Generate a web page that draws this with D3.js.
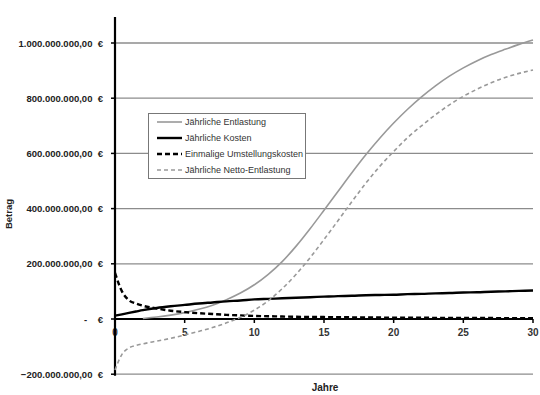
<!DOCTYPE html>
<html>
<head>
<meta charset="utf-8">
<script src="https://cdn.jsdelivr.net/npm/d3@7"></script>
<style>
    body { margin: 0; background: #fff; }
    text { font-family: Arial, "Liberation Sans", sans-serif; }
</style>
</head>
<body>
<div id="chart"></div>
<script>

// years on the x axis (half years early on, where the curves bend fast)
const years = [0, 0.5, 1, 1.5, 2, 3, 4, 5, 6, 7, 8, 9, 10, 11, 12, 13, 14, 15, 16, 17, 18, 19, 20, 21, 22, 23, 24, 25, 26, 27, 28, 29, 30];

// values in million euro
const entlastung = [null, null, null, null, 2, 7, 14, 23, 35, 50, 70, 94, 124, 162, 208, 264, 327, 394, 462, 530, 595, 655, 710, 760, 805, 845, 880, 910, 936, 958, 977, 995, 1011];
const kosten = [12, 17, 22, 27, 32, 40, 46, 51, 56, 60, 64, 67, 71, 73, 75, 77, 79, 81, 83, 84, 86, 87, 88, 90, 91, 93, 94, 96, 97, 99, 100, 102, 103];
const umstellung = [167, 100, 68, 56, 48, 38, 30, 25, 21, 18, 15, 13, 11, 10, 9, 8, 7.5, 7, 6.5, 6, 5.5, 5.2, 5, 4.7, 4.4, 4.2, 4, 3.8, 3.6, 3.4, 3.2, 3.1, 3];
const netto = [-185, -128, -105, -96, -90, -80, -70, -58, -45, -31, -14, 6, 32, 66, 110, 162, 222, 288, 356, 425, 492, 553, 607, 657, 700, 740, 776, 807, 833, 856, 875, 890, 902];

const seriesNames = ["Jährliche Entlastung", "Jährliche Kosten", "Einmalige Umstellungskosten", "Jährliche Netto-Entlastung"];
const yTicks = [-200e6, 0, 200e6, 400e6, 600e6, 800e6, 1000e6];
const xTicks = [0, 5, 10, 15, 20, 25, 30];

let w = 540, h = 395;

let svg = d3.select("#chart").append("svg")
    .attr("width", w)
    .attr("height", h);

let x = d3.scaleLinear().domain([0, 30]).range([115, 533]);
let y = d3.scaleLinear().domain([-200e6, 1000e6]).range([374.2, 43]);

// german number format
let de = d3.formatLocale({decimal: ",", thousands: ".", grouping: [3], currency: ["", " €"]});
let fmt = de.format(",.2f");

// gridlines
svg.append("g")
    .selectAll("line")
    .data(yTicks.filter(d => d != 0))
    .enter()
    .append("line")
    .attr("x1", x(0))
    .attr("x2", x(30))
    .attr("y1", d => y(d))
    .attr("y2", d => y(d))
    .attr("stroke", "#8c8c8c")
    .attr("stroke-width", 1.3);

// y tick labels
let yLab = svg.append("g").attr("font-size", "9.5px").attr("font-weight", "bold").attr("fill", "#222");
yLab.selectAll("text")
    .data(yTicks)
    .enter()
    .append("text")
    .attr("x", 103)
    .attr("y", d => y(d) + 3.5)
    .attr("text-anchor", "end")
    .text(d => d == 0 ? "-" + "\u00a0".repeat(4) + "€" : fmt(d) + "\u00a0\u00a0€");

// y tick marks
svg.append("g")
    .selectAll("line")
    .data(yTicks)
    .enter()
    .append("line")
    .attr("x1", x(0) - 4)
    .attr("x2", x(0))
    .attr("y1", d => y(d))
    .attr("y2", d => y(d))
    .attr("stroke", "#000")
    .attr("stroke-width", 1.5);

// x tick labels
svg.append("g").attr("font-size", "10px").attr("font-weight", "bold").attr("fill", "#333")
    .selectAll("text")
    .data(xTicks)
    .enter()
    .append("text")
    .attr("x", d => x(d))
    .attr("y", y(0) + 17)
    .attr("text-anchor", "middle")
    .text(d => d);

// x tick marks
svg.append("g")
    .selectAll("line")
    .data(xTicks)
    .enter()
    .append("line")
    .attr("x1", d => x(d))
    .attr("x2", d => x(d))
    .attr("y1", y(0))
    .attr("y2", y(0) + 4)
    .attr("stroke", "#000")
    .attr("stroke-width", 1.5);

// axes
svg.append("line")
    .attr("x1", x(0)).attr("x2", x(30))
    .attr("y1", y(0)).attr("y2", y(0))
    .attr("stroke", "#000").attr("stroke-width", 2.2);
svg.append("line")
    .attr("x1", x(0)).attr("x2", x(0))
    .attr("y1", 17).attr("y2", y(-200e6) + 1.5)
    .attr("stroke", "#000").attr("stroke-width", 2.2);

// axis titles
svg.append("text")
    .attr("transform", `translate(12, 214) rotate(-90)`)
    .attr("text-anchor", "middle")
    .attr("font-size", "9.5px").attr("font-weight", "bold").attr("fill", "#222")
    .text("Betrag");
svg.append("text")
    .attr("x", 325).attr("y", 391)
    .attr("text-anchor", "middle")
    .attr("font-size", "10px").attr("font-weight", "bold").attr("fill", "#222")
    .text("Jahre");

// lines
let styles = [
    {values: entlastung, color: "#999", width: 1.6, dash: null},
    {values: kosten, color: "#000", width: 2.4, dash: null},
    {values: umstellung, color: "#000", width: 2.4, dash: "5,3"},
    {values: netto, color: "#999", width: 1.6, dash: "4,3"}
];

let line = d3.line()
    .defined(d => d[1] != null)
    .x(d => x(d[0]))
    .y(d => y(d[1] * 1e6))
    .curve(d3.curveMonotoneX);

styles.forEach(s => {
    svg.append("path")
        .datum(years.map((yr, i) => [yr, s.values[i]]))
        .attr("d", line)
        .attr("fill", "none")
        .attr("stroke", s.color)
        .attr("stroke-width", s.width)
        .attr("stroke-dasharray", s.dash);
});

// legend
let legend = svg.append("g");
legend.append("rect")
    .attr("x", 148.5).attr("y", 113.5)
    .attr("width", 157).attr("height", 65)
    .attr("fill", "#fff")
    .attr("stroke", "#777")
    .attr("stroke-width", 1);

seriesNames.forEach((name, i) => {
    let ly = 122 + i * 16;
    legend.append("line")
        .attr("x1", 157).attr("x2", 182)
        .attr("y1", ly).attr("y2", ly)
        .attr("stroke", styles[i].color)
        .attr("stroke-width", styles[i].width)
        .attr("stroke-dasharray", styles[i].dash);
    legend.append("text")
        .attr("x", 185).attr("y", ly + 3.3)
        .attr("font-size", "9px").attr("fill", "#333")
        .text(name);
});

</script>
</body>
</html>
